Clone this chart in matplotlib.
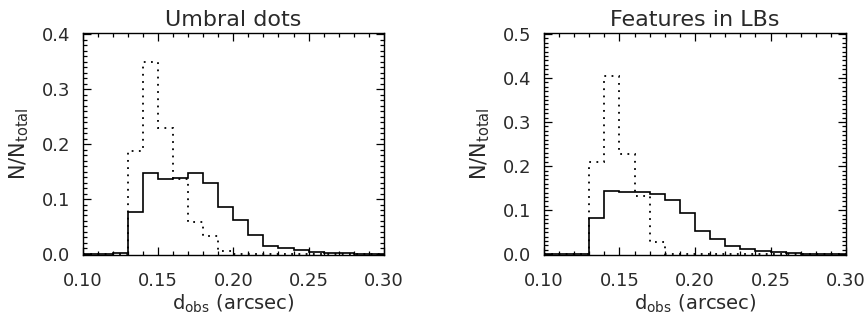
import numpy as np
import matplotlib
matplotlib.use("Agg")
import matplotlib.pyplot as plt
from matplotlib.ticker import MultipleLocator

# bin edges (arcsec)
edges = np.round(np.arange(0.10, 0.3001, 0.01), 2)

# Umbral dots
ud_solid = [0.0, 0.0, 0.002, 0.076, 0.148, 0.136, 0.139, 0.148, 0.129, 0.085,
            0.061, 0.035, 0.015, 0.010, 0.007, 0.004, 0.002, 0.001, 0.0, 0.0]
ud_dotted = [0.0, 0.0, 0.0, 0.188, 0.349, 0.230, 0.137, 0.058, 0.032, 0.006,
             0.0, 0.0, 0.0, 0.0, 0.0, 0.0, 0.0, 0.0, 0.0, 0.0]

# Features in LBs
lb_solid = [0.0, 0.0, 0.0, 0.081, 0.144, 0.141, 0.142, 0.136, 0.123, 0.094,
            0.052, 0.035, 0.018, 0.012, 0.007, 0.004, 0.002, 0.001, 0.0, 0.0]
lb_dotted = [0.0, 0.0, 0.0, 0.210, 0.405, 0.228, 0.132, 0.027, 0.0, 0.0,
             0.0, 0.0, 0.0, 0.0, 0.0, 0.0, 0.0, 0.0, 0.0, 0.0]

titles = ["Umbral dots", "Features in LBs"]
ytops = [0.4, 0.5]

plt.rcParams['font.family'] = ['DejaVu Sans']
txt_col = '#2a2a2a'

fig = plt.figure(figsize=(8.68, 3.22), dpi=100)
ax1 = fig.add_axes([0.0953, 0.208, 0.347, 0.689])
ax2 = fig.add_axes([0.6267, 0.208, 0.348, 0.689])

for ax, solid, dotted, title, ytop in zip([ax1, ax2], [ud_solid, lb_solid],
                                          [ud_dotted, lb_dotted], titles, ytops):
    ax.stairs(solid, edges, color='black', lw=1.2)
    ax.stairs(dotted, edges, color='black', lw=1.3, linestyle=(0, (1, 3)))
    ax.set_xlim(0.10, 0.30)
    ax.set_ylim(-0.002, ytop + 0.002)
    ax.xaxis.set_major_locator(MultipleLocator(0.05))
    ax.xaxis.set_minor_locator(MultipleLocator(0.01))
    ax.yaxis.set_major_locator(MultipleLocator(0.1))
    ax.yaxis.set_minor_locator(MultipleLocator(0.01))
    ax.xaxis.set_major_formatter(plt.FuncFormatter(lambda v, p: f"{v:.2f}"))
    ax.yaxis.set_major_formatter(plt.FuncFormatter(lambda v, p: f"{v:.1f}"))
    ax.tick_params(which='both', direction='in', top=True, right=True,
                   labelsize=13, labelcolor=txt_col, width=0.9)
    ax.tick_params(axis='x', which='major', length=6, pad=12)
    ax.tick_params(axis='y', which='major', length=6, pad=9)
    ax.tick_params(which='minor', length=3)
    for s in ax.spines.values():
        s.set_linewidth(1.0)
    ax.set_title(title, fontsize=16, color=txt_col, pad=5)
    ax.set_xlabel(r"d$_{\rm obs}$ (arcsec)", fontsize=14, color=txt_col, labelpad=2)
    ax.set_ylabel(r"N/N$_{\rm total}$", fontsize=15, color=txt_col, labelpad=8)

fig.savefig("out.png", dpi=100)
